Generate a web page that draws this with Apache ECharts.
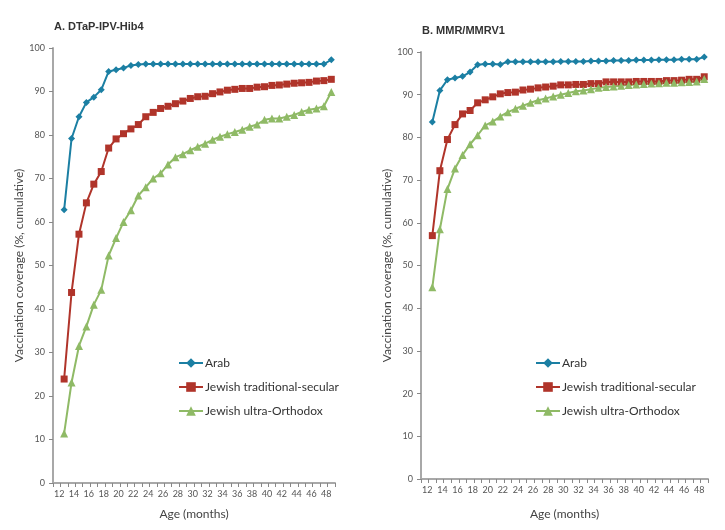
<!DOCTYPE html>
<html><head><meta charset="utf-8">
<script src="https://cdn.jsdelivr.net/npm/echarts@6/dist/echarts.min.js"></script>
<style>html,body{margin:0;padding:0;background:#fff}#c{width:725px;height:530px}</style>
</head><body><div id="c"></div>
<script>
// Age in months (categories)
var ages = [12,13,14,15,16,17,18,19,20,21,22,23,24,25,26,27,28,29,30,31,32,33,34,35,36,37,38,39,40,41,42,43,44,45,46,47,48];
var seriesNames = ['Arab', 'Jewish traditional-secular', 'Jewish ultra-Orthodox'];
var yTicks = [0,10,20,30,40,50,60,70,80,90,100];

// Panel A: DTaP-IPV-Hib4
var dtapArab = [62.8,79.2,84.2,87.5,88.7,90.4,94.6,95.0,95.4,96.0,96.2,96.3,96.3,96.3,96.3,96.3,96.3,96.3,96.3,96.3,96.3,96.3,96.3,96.3,96.3,96.3,96.3,96.3,96.3,96.3,96.3,96.3,96.3,96.3,96.3,96.3,97.3];
var dtapSecular = [23.9,43.8,57.2,64.4,68.7,71.6,77.0,79.1,80.3,81.4,82.4,84.2,85.2,86.1,86.6,87.2,87.8,88.4,88.8,88.9,89.5,89.9,90.3,90.5,90.7,90.7,91.0,91.1,91.4,91.5,91.7,91.9,92.0,92.1,92.4,92.5,92.8];
var dtapOrthodox = [11.4,23.1,31.5,36.0,41.0,44.4,52.3,56.3,60.0,62.7,66.1,68.0,70.0,71.2,73.2,74.9,75.6,76.5,77.3,78.0,78.9,79.6,80.2,80.7,81.2,81.9,82.4,83.5,83.8,83.8,84.2,84.6,85.3,85.8,86.1,86.6,89.9];

// Panel B: MMR/MMRV1
var mmrArab = [83.6,91.0,93.5,93.9,94.3,95.3,97.0,97.2,97.2,97.1,97.7,97.7,97.7,97.7,97.7,97.7,97.7,97.8,97.8,97.8,97.8,97.9,97.9,97.9,98.0,98.0,98.0,98.1,98.1,98.1,98.2,98.2,98.2,98.3,98.3,98.3,98.8];
var mmrSecular = [57.0,72.2,79.5,83.0,85.5,86.3,88.1,88.8,89.5,90.2,90.5,90.6,91.1,91.3,91.6,91.8,92.0,92.3,92.3,92.4,92.4,92.6,92.6,93.0,93.0,93.0,93.0,93.1,93.1,93.1,93.1,93.3,93.3,93.4,93.6,93.6,94.2];
var mmrOrthodox = [44.9,58.5,67.9,72.7,75.9,78.4,80.5,82.8,83.7,84.9,85.9,86.7,87.4,88.1,88.7,89.1,89.6,90.0,90.4,90.8,91.0,91.3,91.6,91.8,91.9,92.1,92.3,92.4,92.5,92.6,92.7,92.8,92.8,92.9,93.0,93.1,93.7];

var colors = ['#1b7fa3', '#b0342a', '#8fba66'];
var symbols = ['diamond', 'rect', 'triangle'];
var symbolSizes = [7, 7, 8];
var FONT = 'Lato, "Open Sans", sans-serif';
var TFONT = '"Liberation Sans", Arial, sans-serif';

var cats = [''].concat(ages.map(String));

function pairs(vals){ return vals.map(function(v,i){ return [String(ages[i]), v]; }); }

function xAxis(gi, gap){
  return {
    type:'category', gridIndex:gi, data:cats, boundaryGap:true,
    name:'Age (months)', nameLocation:'middle', nameGap:gap,
    nameTextStyle:{fontFamily:FONT, fontSize:12, color:'#444'},
    axisLine:{lineStyle:{color:'#a8a8a8', width:2}},
    axisTick:{show:true, interval:0, alignWithLabel:false, length:4, lineStyle:{color:'#888', width:1}},
    axisLabel:{interval:function(idx, val){ return val !== '' && Number(val) % 2 === 0; },
      fontFamily:FONT, fontSize:9, color:'#555', margin:7, padding:[0,10,0,0]},
    splitLine:{show:false}
  };
}
function yAxis(gi){
  return {
    type:'value', gridIndex:gi, min:yTicks[0], max:yTicks[yTicks.length-1], interval:10,
    name:'Vaccination coverage (%, cumulative)', nameLocation:'middle', nameGap:28,
    nameTextStyle:{fontFamily:FONT, fontSize:12, color:'#444'},
    axisLine:{show:true, lineStyle:{color:'#a8a8a8', width:2}},
    axisTick:{show:true, length:4, lineStyle:{color:'#888', width:1}},
    axisLabel:{fontFamily:FONT, fontSize:9, color:'#555', margin:8},
    splitLine:{show:false}
  };
}
function mk(name, vals, k, gi){
  return {
    type:'line', name:name, xAxisIndex:gi, yAxisIndex:gi, data:pairs(vals),
    symbol:symbols[k], symbolSize:symbolSizes[k], showAllSymbol:true,
    lineStyle:{color:colors[k], width:2}, itemStyle:{color:colors[k]},
    emphasis:{disabled:true}
  };
}
function legend(left){
  return {
    orient:'vertical', left:left, top:352, itemWidth:24, itemHeight:12, itemGap:12,
    data:seriesNames, textStyle:{fontFamily:FONT, fontSize:12, color:'#333', padding:[0,0,0,-3]},
    selectedMode:false
  };
}

var chart = echarts.init(document.getElementById('c'), null, {renderer:'canvas'});
chart.setOption({
  animation:false,
  backgroundColor:'#fff',
  title:[
    {text:'A. DTaP-IPV-Hib4', left:49, top:16, textStyle:{fontFamily:TFONT, fontSize:11, fontWeight:'bold', color:'#333'}},
    {text:'B. MMR/MMRV1', left:417, top:20, textStyle:{fontFamily:TFONT, fontSize:11, fontWeight:'bold', color:'#333'}}
  ],
  legend:[legend(173), legend(530)],
  grid:[
    {left:53, top:48, width:282, height:435},
    {left:421, top:52, width:287, height:427}
  ],
  xAxis:[xAxis(0, 25), xAxis(1, 29)],
  yAxis:[yAxis(0), yAxis(1)],
  series:[
    mk(seriesNames[0], dtapArab, 0, 0),
    mk(seriesNames[1], dtapSecular, 1, 0),
    mk(seriesNames[2], dtapOrthodox, 2, 0),
    mk(seriesNames[0], mmrArab, 0, 1),
    mk(seriesNames[1], mmrSecular, 1, 1),
    mk(seriesNames[2], mmrOrthodox, 2, 1)
  ]
});
</script></body></html>
